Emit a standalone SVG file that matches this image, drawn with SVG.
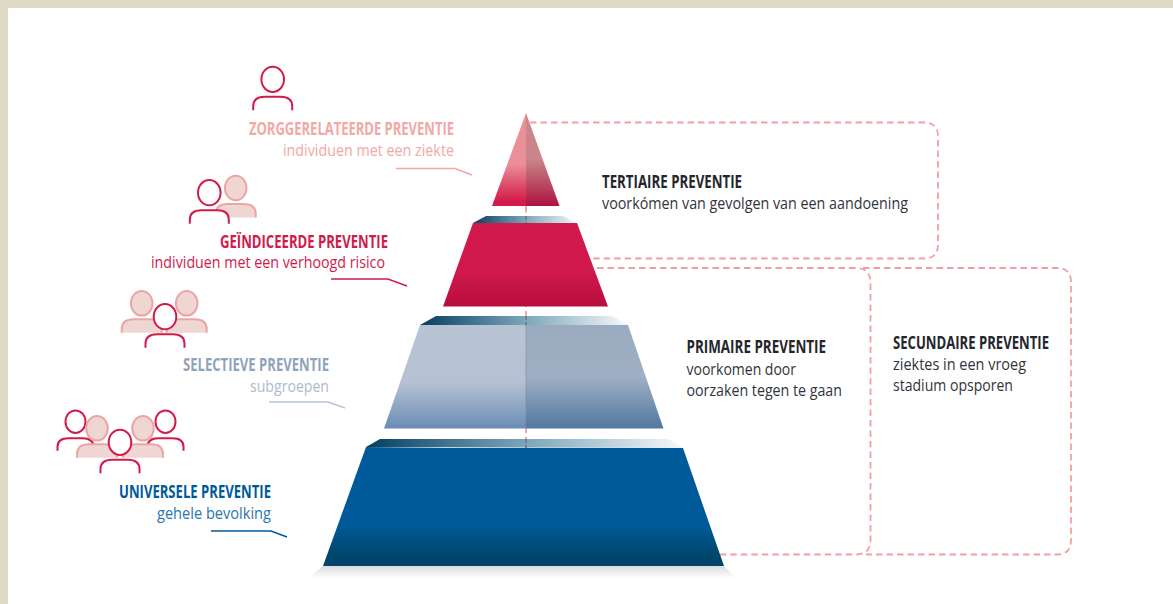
<svg xmlns="http://www.w3.org/2000/svg" width="1173" height="604" viewBox="0 0 1173 604">
<style>
.h{font-family:"Open Sans","Liberation Sans",sans-serif;font-weight:700;font-size:17px}
.s{font-family:"Open Sans","Liberation Sans",sans-serif;font-weight:500;font-size:15.5px}
.dark{fill:#25262b}.sub{fill:#30343c}
.dash{fill:none;stroke:#f0a0a4;stroke-width:1.8;stroke-dasharray:6.5 4}
.lead{fill:none;stroke-width:1.7}
.rb{fill:#fff;stroke:#d21a4b;stroke-width:2}
.pk{fill:#f0d6d3;stroke:#eba5a4;stroke-width:2}
</style>
<defs>
<g id="red"><path class="rb" d="M-19.500 31V27Q-19.500 17.500-8 17.500H8Q19.500 17.500 19.500 27V31"/><ellipse class="rb" rx="11.300" ry="12.600"/></g>
<g id="pink"><path class="pk" d="M-20 29.500V26Q-20 16-8 16H8Q20 16 20 26V29.500"/><ellipse class="pk" rx="10.800" ry="12.300"/></g>
<g id="redb"><path class="rb" d="M-18 29V25Q-18 16.500-7 16.500H7Q18 16.500 18 25V29"/><ellipse class="rb" rx="10" ry="11.300"/></g>
<linearGradient id="t1l" x1="0" y1="0" x2="0" y2="1"><stop offset="0" stop-color="#ea9298"/><stop offset=".55" stop-color="#e98f96"/><stop offset=".95" stop-color="#d31b4c"/></linearGradient>
<linearGradient id="t1r" x1="0" y1="0" x2="0" y2="1"><stop offset="0" stop-color="#cd878b"/><stop offset=".5" stop-color="#c98589"/><stop offset="1" stop-color="#ae1240"/></linearGradient>
<linearGradient id="t2" x1="0" y1="0" x2="0" y2="1"><stop offset="0" stop-color="#d2194b"/><stop offset=".6" stop-color="#d0184a"/><stop offset="1" stop-color="#b80d3f"/></linearGradient>
<linearGradient id="t3l" x1="0" y1="0" x2="0" y2="1"><stop offset="0" stop-color="#b8c4d4"/><stop offset=".55" stop-color="#b6c2d3"/><stop offset="1" stop-color="#6a8cb6"/></linearGradient>
<linearGradient id="t3r" x1="0" y1="0" x2="0" y2="1"><stop offset="0" stop-color="#9aabc0"/><stop offset=".5" stop-color="#9fafc4"/><stop offset="1" stop-color="#52789f"/></linearGradient>
<linearGradient id="t4" x1="0" y1="0" x2="0" y2="1"><stop offset="0" stop-color="#005a9a"/><stop offset=".65" stop-color="#005a99"/><stop offset=".92" stop-color="#00466c"/><stop offset="1" stop-color="#00466c"/></linearGradient>
<linearGradient id="band" x1="0" y1="0" x2="1" y2="0"><stop offset="0" stop-color="#063f60"/><stop offset=".5" stop-color="#7ba5b9"/><stop offset="1" stop-color="#f6f9fb"/></linearGradient>
<linearGradient id="shad" x1="0" y1="0" x2="0" y2="1"><stop offset="0" stop-color="#dcdcdc"/><stop offset="1" stop-color="#fff"/></linearGradient>
</defs>
<rect width="1173" height="604" fill="#e0dbc6"/>
<rect x="8" y="8" width="1165" height="596" fill="#fff"/>

<g id="connectors">
<path class="dash" d="M530 122.500H924Q938 122.500 938 136.500V244.500Q938 258.500 924 258.500H589"/>
<path class="dash" d="M597 268H856Q870.500 268 870.500 282.500V540Q870.500 554.500 856 554.500H720"/>
<path class="dash" d="M863 268H1057Q1071 268 1071 282V540Q1071 554.500 1057 554.500H866"/>
<path class="dash" d="M526 206V450"/>
<path class="lead" stroke="#f2a6a6" d="M396 168.500H455L472 175"/>
<path class="lead" stroke="#d21a4b" d="M331 279H388L407 286"/>
<path class="lead" stroke="#b8c5d6" d="M269 402H328L345 408"/>
<path class="lead" stroke="#005a9a" d="M211 531H271L287 537"/>
</g>

<g id="tier-zorg">
<path fill="url(#t1l)" d="M526 113V206H492Z"/>
<path fill="url(#t1r)" d="M526 113V206H559.500Z"/>
</g>
<g id="tier-geindiceerd">
<path fill="url(#band)" d="M473 223L486 216H563L577 223Z"/>
<path fill="url(#t2)" d="M473 223H577L608 306.500H443Z"/>
</g>
<g id="tier-selectief">
<path fill="url(#band)" d="M420 325L436 316H612L628 325Z"/>
<path fill="url(#t3l)" d="M420 325H526V428.500H384Z"/>
<path fill="url(#t3r)" d="M526 325H628L663.500 428.500H526Z"/>
</g>
<g id="tier-universeel">
<path fill="url(#shad)" d="M323 566H724L736 578H308Z"/>
<path fill="url(#band)" d="M366 447L380 439H668L684 448Z"/>
<path fill="url(#t4)" d="M366 447L447 448H683L724 566H323Z"/>
</g>
<path d="M526 216V223M526 316V325M526 439V448" stroke="#6d7888" stroke-width="1.600" stroke-dasharray="4 2" fill="none"/>
<path d="M526 325V428" stroke="#6d86a5" stroke-width="1" opacity=".5" fill="none"/>

<g id="icon-1"><use href="#red" x="272.700" y="79.300"/></g>
<g id="icon-2"><use href="#pink" x="235.700" y="188"/><use href="#red" x="209.300" y="192.700"/></g>
<g id="icon-3"><use href="#pink" x="141.700" y="303.300"/><use href="#pink" x="186.700" y="303.300"/><use href="#red" x="165" y="316.700"/></g>
<g id="icon-4"><use href="#redb" x="75.500" y="421.700"/><use href="#redb" x="165.500" y="421.700"/><use href="#pink" x="97" y="428.300"/><use href="#pink" x="143" y="428.300"/><use href="#red" x="120" y="442.300"/></g>

<g id="label-zorg" fill="#f2a8a6">
<text class="h" x="249" y="135" textLength="205" lengthAdjust="spacingAndGlyphs">ZORGGERELATEERDE PREVENTIE</text>
<text class="s" x="283" y="155.500" textLength="171" lengthAdjust="spacingAndGlyphs">individuen met een ziekte</text>
</g>
<g id="label-geindiceerd" fill="#d21a4b">
<text class="h" x="220" y="247.500" textLength="168" lengthAdjust="spacingAndGlyphs">GEÏNDICEERDE PREVENTIE</text>
<text class="s" x="151" y="267.500" textLength="234" lengthAdjust="spacingAndGlyphs">individuen met een verhoogd risico</text>
</g>
<g id="label-selectief">
<text class="h" x="183" y="371" textLength="146" lengthAdjust="spacingAndGlyphs" fill="#8fa3bb">SELECTIEVE PREVENTIE</text>
<text class="s" x="250" y="391.500" textLength="79" lengthAdjust="spacingAndGlyphs" fill="#aebbcd">subgroepen</text>
</g>
<g id="label-universeel">
<text class="h" x="119" y="498" textLength="152" lengthAdjust="spacingAndGlyphs" fill="#005a9a">UNIVERSELE PREVENTIE</text>
<text class="s" x="157" y="518.500" textLength="114" lengthAdjust="spacingAndGlyphs" fill="#2a76ad">gehele bevolking</text>
</g>
<g id="label-tertiair">
<text class="h dark" x="602" y="187.500" textLength="140" lengthAdjust="spacingAndGlyphs">TERTIAIRE PREVENTIE</text>
<text class="s sub" x="602" y="208.500" textLength="306" lengthAdjust="spacingAndGlyphs">voorkómen van gevolgen van een aandoening</text>
</g>
<g id="label-primair">
<text class="h dark" x="686.500" y="352.500" textLength="139.500" lengthAdjust="spacingAndGlyphs">PRIMAIRE PREVENTIE</text>
<text class="s sub" x="686.500" y="374.500" textLength="109.500" lengthAdjust="spacingAndGlyphs">voorkomen door</text>
<text class="s sub" x="686.500" y="395.500" textLength="155.500" lengthAdjust="spacingAndGlyphs">oorzaken tegen te gaan</text>
</g>
<g id="label-secundair">
<text class="h dark" x="893" y="348.500" textLength="156" lengthAdjust="spacingAndGlyphs">SECUNDAIRE PREVENTIE</text>
<text class="s sub" x="893" y="369.500" textLength="133" lengthAdjust="spacingAndGlyphs">ziektes in een vroeg</text>
<text class="s sub" x="893" y="390.500" textLength="120" lengthAdjust="spacingAndGlyphs">stadium opsporen</text>
</g>
</svg>
